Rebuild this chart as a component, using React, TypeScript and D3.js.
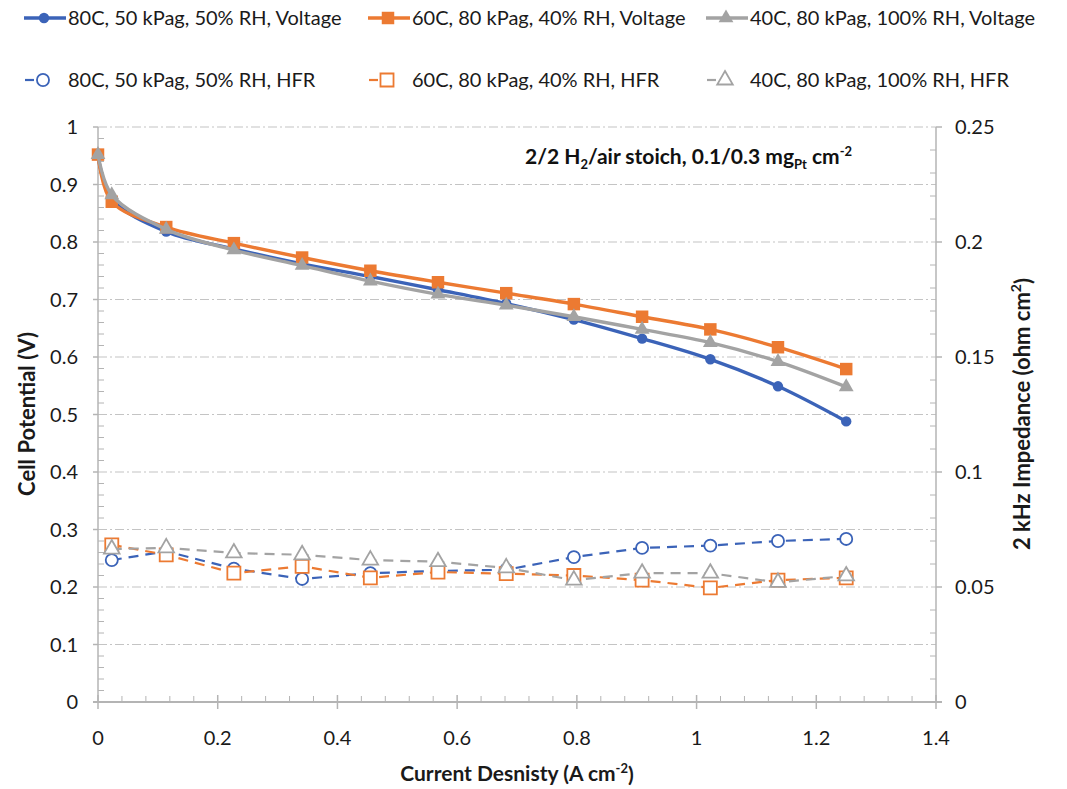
import React, { useRef, useEffect } from "react";
import * as d3 from "d3";

// current density (A cm-2)
const currentDensity = [0, 0.023, 0.114, 0.227, 0.341, 0.455, 0.568, 0.682, 0.795, 0.909, 1.023, 1.136, 1.25];
const hfrCurrent = [0.023, 0.114, 0.227, 0.341, 0.455, 0.568, 0.682, 0.795, 0.909, 1.023, 1.136, 1.25];

// cell potential (V)
const voltage80C = [0.952, 0.875, 0.818, 0.788, 0.762, 0.74, 0.717, 0.693, 0.665, 0.632, 0.596, 0.549, 0.488];
const voltage60C = [0.952, 0.87, 0.826, 0.798, 0.773, 0.75, 0.73, 0.711, 0.692, 0.67, 0.648, 0.617, 0.579];
const voltage40C = [0.952, 0.882, 0.822, 0.786, 0.759, 0.732, 0.709, 0.69, 0.67, 0.648, 0.625, 0.592, 0.548];

// 2 kHz impedance (ohm cm2)
const hfr80C = [0.0617, 0.0655, 0.058, 0.0535, 0.056, 0.057, 0.0575, 0.063, 0.067, 0.068, 0.07, 0.0709];
const hfr60C = [0.0683, 0.064, 0.056, 0.059, 0.054, 0.0565, 0.0558, 0.055, 0.053, 0.0496, 0.053, 0.054];
const hfr40C = [0.0665, 0.067, 0.0648, 0.064, 0.0617, 0.061, 0.0583, 0.053, 0.056, 0.056, 0.052, 0.0548];

const xTickLabels = ["0", "0.2", "0.4", "0.6", "0.8", "1", "1.2", "1.4"];
const leftTickLabels = ["0", "0.1", "0.2", "0.3", "0.4", "0.5", "0.6", "0.7", "0.8", "0.9", "1"];
const rightTickLabels = ["0", "0.05", "0.1", "0.15", "0.2", "0.25"];

const seriesNames = [
  "80C, 50 kPag, 50% RH, Voltage",
  "60C, 80 kPag, 40% RH, Voltage",
  "40C, 80 kPag, 100% RH, Voltage",
  "80C, 50 kPag, 50% RH, HFR",
  "60C, 80 kPag, 40% RH, HFR",
  "40C, 80 kPag, 100% RH, HFR",
];

const BLUE = "#3b63b8";
const ORANGE = "#ec7a32";
const GRAY = "#a3a3a3";
const AXIS = "#b4b4b4";
const FONT = "Lato, 'Open Sans', sans-serif";

const W = 1067;
const H = 789;

const App = () => {
  const ref = useRef<SVGSVGElement>(null);

  useEffect(() => {
    const svg = d3.select(ref.current);
    svg.selectAll("*").remove();

    const x = d3.scaleLinear().domain([0, 1.4]).range([98, 936]);
    const yL = d3.scaleLinear().domain([0, 1]).range([702, 127]);
    const yR = d3.scaleLinear().domain([0, 0.25]).range([702, 127]);

    svg.append("rect").attr("width", W).attr("height", H).attr("fill", "white");

    // gridlines (long dash dot)
    svg
      .append("g")
      .selectAll("line")
      .data(leftTickLabels.slice(1))
      .enter()
      .append("line")
      .attr("x1", x(0))
      .attr("x2", x(1.4))
      .attr("y1", (d) => yL(+d))
      .attr("y2", (d) => yL(+d))
      .attr("stroke", "#c4c4c4")
      .attr("stroke-width", 1.2)
      .attr("stroke-dasharray", "9,3,2,3");

    const axes = svg.append("g").attr("stroke", AXIS).attr("stroke-width", 1.5);

    // left axis
    axes.append("line").attr("x1", x(0)).attr("x2", x(0)).attr("y1", yL(0)).attr("y2", yL(1));
    axes
      .selectAll(".lminor")
      .data(d3.range(0, 50).map((i) => i * 0.02).filter((v, i) => i % 5 !== 0))
      .enter()
      .append("line")
      .attr("x1", x(0))
      .attr("x2", x(0) + 6)
      .attr("y1", (d) => yL(d))
      .attr("y2", (d) => yL(d))
      .attr("stroke-width", 1);
    axes
      .selectAll(".lmajor")
      .data(leftTickLabels)
      .enter()
      .append("line")
      .attr("x1", x(0) - 5)
      .attr("x2", x(0))
      .attr("y1", (d) => yL(+d))
      .attr("y2", (d) => yL(+d));

    // right axis
    axes.append("line").attr("x1", x(1.4)).attr("x2", x(1.4)).attr("y1", yR(0)).attr("y2", yR(0.25));
    axes
      .selectAll(".rminor")
      .data(d3.range(0, 25).map((i) => i * 0.01).filter((v, i) => i % 5 !== 0))
      .enter()
      .append("line")
      .attr("x1", x(1.4) - 6)
      .attr("x2", x(1.4))
      .attr("y1", (d) => yR(d))
      .attr("y2", (d) => yR(d))
      .attr("stroke-width", 1);
    axes
      .selectAll(".rmajor")
      .data(rightTickLabels)
      .enter()
      .append("line")
      .attr("x1", x(1.4))
      .attr("x2", x(1.4) + 6)
      .attr("y1", (d) => yR(+d))
      .attr("y2", (d) => yR(+d));

    // bottom axis
    axes.append("line").attr("x1", x(0) - 5).attr("x2", x(1.4) + 6).attr("y1", yL(0)).attr("y2", yL(0)).attr("stroke-width", 2);
    axes
      .selectAll(".bminor")
      .data(d3.range(0, 35).map((i) => i * 0.04).filter((v, i) => i % 5 !== 0))
      .enter()
      .append("line")
      .attr("x1", (d) => x(d))
      .attr("x2", (d) => x(d))
      .attr("y1", yL(0) - 6)
      .attr("y2", yL(0))
      .attr("stroke-width", 1);
    axes
      .selectAll(".bmajor")
      .data(xTickLabels)
      .enter()
      .append("line")
      .attr("x1", (d) => x(+d))
      .attr("x2", (d) => x(+d))
      .attr("y1", yL(0) - 7)
      .attr("y2", yL(0) + 7);

    // tick labels
    const labels = svg.append("g").attr("font-family", FONT).attr("font-size", 20).attr("fill", "#1a1a1a");
    labels
      .selectAll(".lt")
      .data(leftTickLabels)
      .enter()
      .append("text")
      .attr("x", 78)
      .attr("y", (d) => yL(+d))
      .attr("dy", "0.35em")
      .attr("text-anchor", "end")
      .text((d) => d);
    labels
      .selectAll(".rt")
      .data(rightTickLabels)
      .enter()
      .append("text")
      .attr("x", 955)
      .attr("y", (d) => yR(+d))
      .attr("dy", "0.35em")
      .text((d) => d);
    labels
      .selectAll(".bt")
      .data(xTickLabels)
      .enter()
      .append("text")
      .attr("x", (d) => x(+d))
      .attr("y", 738)
      .attr("dy", "0.35em")
      .attr("text-anchor", "middle")
      .text((d) => d);

    // axis titles
    const titles = svg.append("g").attr("font-family", FONT).attr("font-weight", "bold").attr("fill", "#1a1a1a");
    titles
      .append("text")
      .attr("transform", "translate(27,414) rotate(-90)")
      .attr("dy", "0.35em")
      .attr("font-size", 22)
      .attr("text-anchor", "middle")
      .text("Cell Potential (V)");
    const rt = titles
      .append("text")
      .attr("transform", "translate(1022,414) rotate(-90)")
      .attr("dy", "0.35em")
      .attr("font-size", 22)
      .attr("text-anchor", "middle");
    rt.append("tspan").text("2 kHz Impedance (ohm cm");
    rt.append("tspan").attr("font-size", 14).attr("dy", "-0.6em").text("2");
    rt.append("tspan").attr("dy", "0.42em").text(")");
    const bt = titles.append("text").attr("x", 517).attr("y", 781).attr("font-size", 21).attr("text-anchor", "middle");
    bt.append("tspan").text("Current Desnisty (A cm");
    bt.append("tspan").attr("font-size", 13).attr("dy", "-0.6em").text("-2");
    bt.append("tspan").attr("dy", "0.42em").text(")");

    // annotation
    const ann = svg
      .append("text")
      .attr("x", 525)
      .attr("y", 164)
      .attr("font-family", FONT)
      .attr("font-weight", "bold")
      .attr("font-size", 21)
      .attr("fill", "#111");
    ann.append("tspan").text("2/2 H");
    ann.append("tspan").attr("font-size", 13).attr("dy", 5).text("2");
    ann.append("tspan").attr("dy", -5).text("/air stoich, 0.1/0.3 mg");
    ann.append("tspan").attr("font-size", 13).attr("dy", 5).text("Pt");
    ann.append("tspan").attr("dy", -5).text(" cm");
    ann.append("tspan").attr("font-size", 13).attr("dy", -8).text("-2");

    const symCircleV = d3.symbol(d3.symbolCircle, 85);
    const symSquareV = d3.symbol(d3.symbolSquare, 156);
    const symTriV = d3.symbol(d3.symbolTriangle, 95);
    const symCircleH = d3.symbol(d3.symbolCircle, 115);
    const symSquareH = d3.symbol(d3.symbolSquare, 170);
    const symTriH = d3.symbol(d3.symbolTriangle, 105);

    const voltageSeries = [
      { vals: voltage80C, color: BLUE, sym: symCircleV },
      { vals: voltage60C, color: ORANGE, sym: symSquareV },
      { vals: voltage40C, color: GRAY, sym: symTriV },
    ];
    const hfrSeries = [
      { vals: hfr80C, color: BLUE, sym: symCircleH },
      { vals: hfr60C, color: ORANGE, sym: symSquareH },
      { vals: hfr40C, color: GRAY, sym: symTriH },
    ];

    const vLine = d3
      .line<number>()
      .x((d, i) => x(currentDensity[i]))
      .y((d) => yL(d))
      .curve(d3.curveCatmullRom.alpha(0.5));

    voltageSeries.forEach((s) => {
      const g = svg.append("g");
      g.append("path").attr("d", vLine(s.vals)).attr("fill", "none").attr("stroke", s.color).attr("stroke-width", 3.4);
      g.selectAll("path.m")
        .data(s.vals)
        .enter()
        .append("path")
        .attr("class", "m")
        .attr("d", s.sym)
        .attr("transform", (d, i) => `translate(${x(currentDensity[i])},${yL(d)})`)
        .attr("fill", s.color);
    });

    const hLine = d3
      .line<number>()
      .x((d, i) => x(hfrCurrent[i]))
      .y((d) => yR(d));

    hfrSeries.forEach((s) => {
      const g = svg.append("g");
      g.append("path")
        .attr("d", hLine(s.vals))
        .attr("fill", "none")
        .attr("stroke", s.color)
        .attr("stroke-width", 2.2)
        .attr("stroke-dasharray", "10,7");
      g.selectAll("path.m")
        .data(s.vals)
        .enter()
        .append("path")
        .attr("class", "m")
        .attr("d", s.sym)
        .attr("transform", (d, i) => `translate(${x(hfrCurrent[i])},${yR(d)})`)
        .attr("fill", "white")
        .attr("stroke", s.color)
        .attr("stroke-width", 1.8);
    });

    // legend
    const legendCols = [24, 368, 706];
    const legend = svg.append("g").attr("font-family", FONT).attr("font-size", 20).attr("fill", "#1a1a1a");
    voltageSeries.forEach((s, i) => {
      const lx = legendCols[i];
      const ly = 18;
      legend.append("line").attr("x1", lx).attr("x2", lx + 42).attr("y1", ly).attr("y2", ly).attr("stroke", s.color).attr("stroke-width", 3.4);
      legend.append("path").attr("d", s.sym).attr("transform", `translate(${lx + 20},${ly})`).attr("fill", s.color);
      legend.append("text").attr("x", lx + 44).attr("y", ly).attr("dy", "0.35em").text(seriesNames[i]);
    });
    hfrSeries.forEach((s, i) => {
      const lx = legendCols[i];
      const ly = 80;
      legend.append("line").attr("x1", lx + 1).attr("x2", lx + 10).attr("y1", ly).attr("y2", ly).attr("stroke", s.color).attr("stroke-width", 2.2);
      legend.append("path").attr("d", s.sym).attr("transform", `translate(${lx + 19},${ly})`).attr("fill", "white").attr("stroke", s.color).attr("stroke-width", 1.8);
      legend.append("text").attr("x", lx + 44).attr("y", ly).attr("dy", "0.35em").text(seriesNames[i + 3]);
    });
  }, []);

  return (
    <svg
      ref={ref}
      width={W}
      height={H}
      style={{ position: "absolute", left: 0, top: 0, display: "block" }}
    ></svg>
  );
};

export default App;
